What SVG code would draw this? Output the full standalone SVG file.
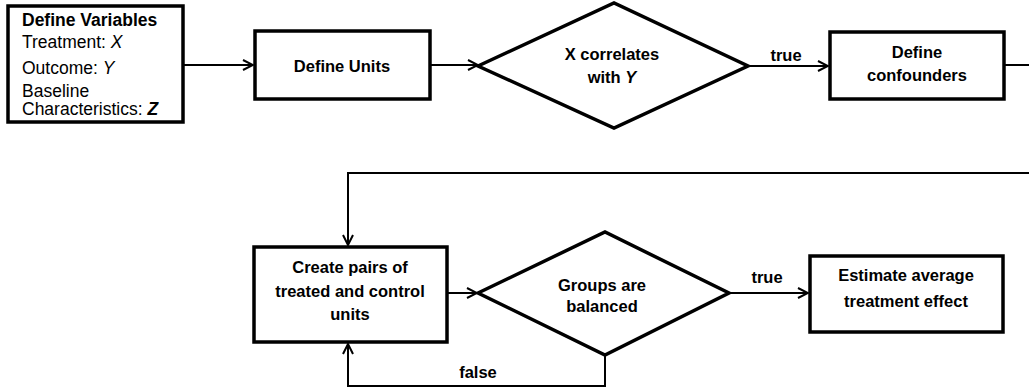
<svg xmlns="http://www.w3.org/2000/svg" width="1029" height="391" viewBox="0 0 1029 391">
<defs>
<style>
.box{fill:#fff;stroke:#000;stroke-width:3.5}
.edge{fill:none;stroke:#000;stroke-width:2}
.t{font-family:"Liberation Sans",Arial,sans-serif;font-size:16.5px;font-weight:bold;fill:#000;text-anchor:middle}
.n{font-family:"Liberation Sans",Arial,sans-serif;font-size:17.5px;fill:#000}
.lbl{font-family:"Liberation Sans",Arial,sans-serif;font-size:16.5px;font-weight:bold;fill:#000;text-anchor:middle}
</style>
<marker id="arr" viewBox="0 0 12 12" refX="11" refY="6" markerWidth="12" markerHeight="12" markerUnits="userSpaceOnUse" orient="auto">
<path d="M1,1 L11,6 L1,11" fill="none" stroke="#000" stroke-width="2"/>
</marker>
</defs>
<g id="connectors">
<line class="edge" x1="184" y1="65" x2="253" y2="65" marker-end="url(#arr)"/>
<line class="edge" x1="430" y1="65" x2="478" y2="65" marker-end="url(#arr)"/>
<line class="edge" x1="748" y1="66" x2="828" y2="66" marker-end="url(#arr)"/>
<text class="lbl" x="786" y="61">true</text>
<polyline class="edge" points="1004,65 1029,65"/>
<polyline class="edge" points="1029,173 348,173 348,245" marker-end="url(#arr)"/>
<line class="edge" x1="447" y1="293" x2="477" y2="293" marker-end="url(#arr)"/>
<line class="edge" x1="729" y1="293" x2="808" y2="293" marker-end="url(#arr)"/>
<text class="lbl" x="767" y="283">true</text>
<polyline class="edge" points="605,355 605,386 348,386 348,344" marker-end="url(#arr)"/>
<text class="lbl" x="478" y="378">false</text>
</g>
<g id="define-variables">
<rect class="box" x="8" y="6" width="175" height="116"/>
<text class="n" x="22" y="26" font-weight="bold" font-size="16.5">Define Variables</text>
<text class="n" x="22" y="48">Treatment: <tspan font-style="italic">X</tspan></text>
<text class="n" x="22" y="74">Outcome: <tspan font-style="italic">Y</tspan></text>
<text class="n" x="22" y="97">Baseline</text>
<text class="n" x="22" y="115">Characteristics: <tspan font-weight="bold" font-style="italic">Z</tspan></text>
</g>
<g id="define-units">
<rect class="box" x="255" y="31" width="175" height="68"/>
<text class="t" x="342" y="72">Define Units</text>
</g>
<g id="x-correlates">
<polygon class="box" points="478,66 614,3 748,66 614,128"/>
<text class="t" x="612" y="60">X correlates</text>
<text class="t" x="612" y="83">with <tspan font-style="italic">Y</tspan></text>
</g>
<g id="define-confounders">
<rect class="box" x="830" y="32" width="174" height="67"/>
<text class="t" x="917" y="58">Define</text>
<text class="t" x="917" y="81">confounders</text>
</g>
<g id="create-pairs">
<rect class="box" x="254" y="247" width="193" height="95"/>
<text class="t" x="350" y="273">Create pairs of</text>
<text class="t" x="350" y="297">treated and control</text>
<text class="t" x="350" y="320">units</text>
</g>
<g id="groups-balanced">
<polygon class="box" points="478,293 605,232 729,293 605,355"/>
<text class="t" x="602" y="291">Groups are</text>
<text class="t" x="602" y="312">balanced</text>
</g>
<g id="estimate-ate">
<rect class="box" x="810" y="256" width="193" height="76"/>
<text class="t" x="906" y="281">Estimate average</text>
<text class="t" x="906" y="307">treatment effect</text>
</g>
</svg>
